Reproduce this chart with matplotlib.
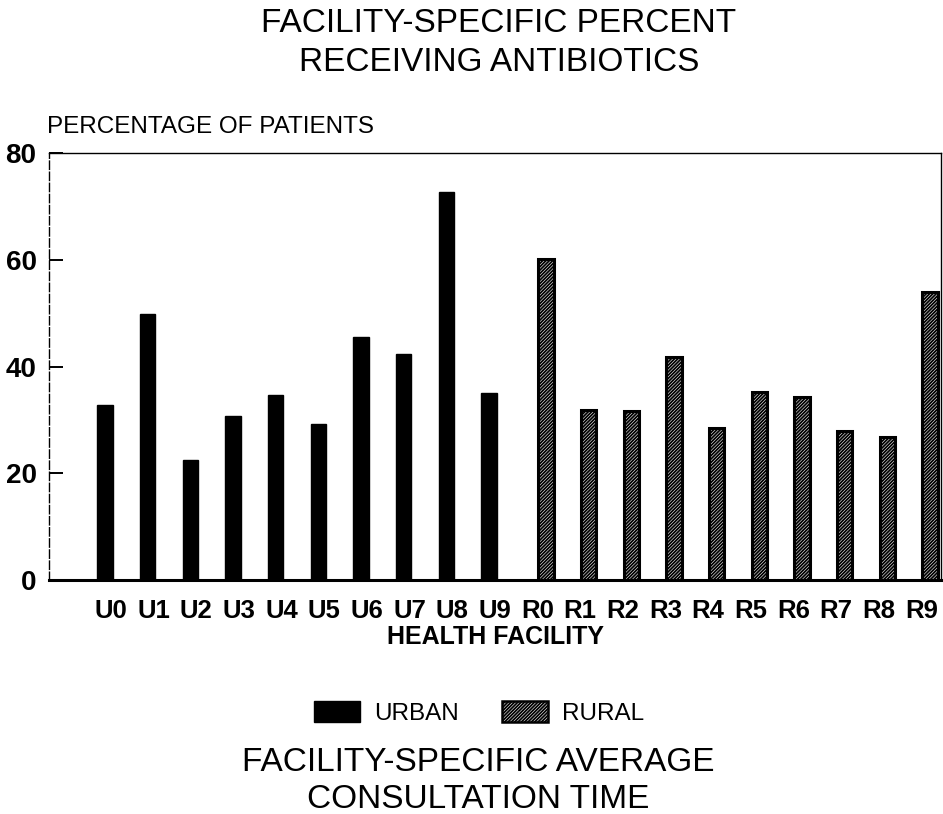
import matplotlib
matplotlib.use("Agg")
import matplotlib.pyplot as plt
from matplotlib.patches import Patch
import numpy as np

# data
urban_labels = ["U0", "U1", "U2", "U3", "U4", "U5", "U6", "U7", "U8", "U9"]
rural_labels = ["R0", "R1", "R2", "R3", "R4", "R5", "R6", "R7", "R8", "R9"]
urban_pct = [32.7, 49.9, 22.4, 30.7, 34.6, 29.3, 45.6, 42.4, 72.7, 35.0]
rural_pct = [60.2, 31.8, 31.6, 41.7, 28.4, 35.3, 34.3, 28.0, 26.8, 54.0]
yticks = [0, 20, 40, 60, 80]

plt.rcParams['font.family'] = ['Liberation Sans', 'DejaVu Sans']
plt.rcParams['hatch.linewidth'] = 1.3

fig = plt.figure(figsize=(9.43, 8.14), dpi=100)
ax = fig.add_axes([0.052, 0.2875, 0.946, 0.5245])

x_u = np.arange(len(urban_pct))
x_r = np.arange(len(rural_pct)) + len(urban_pct) + 0.34
bw = 0.36
hatch = '//////////'

ax.bar(x_u, urban_pct, width=bw, color='black', edgecolor='black')
ax.bar(x_r, rural_pct, width=bw, facecolor='white', edgecolor='black',
       hatch=hatch, linewidth=2.2)

ax.set_xlim(-1.31, 19.6)
ax.set_ylim(0, 80)

# tick labels are evenly spaced, a little off the bars
tick_pos = np.arange(20) + 0.14
ax.set_xticks(tick_pos)
ax.set_xticklabels(urban_labels + rural_labels, fontsize=18.5, fontweight='bold')
ax.tick_params(axis='x', length=0, pad=14)

ax.set_yticks(yticks)
ax.set_yticklabels([str(v) for v in yticks], fontsize=20, fontweight='bold')
ax.tick_params(axis='y', direction='in', length=10, width=1.4, pad=9)

for s in ['left', 'top', 'right']:
    ax.spines[s].set_linewidth(1.0)
ax.spines['left'].set_linestyle((0, (6, 2)))
ax.spines['bottom'].set_linewidth(2.2)

fig.text(0.050, 0.844, "PERCENTAGE OF PATIENTS", fontsize=17.5, ha='left', va='center')
fig.text(0.525, 0.217, "HEALTH FACILITY", fontsize=18, fontweight='bold',
         ha='center', va='center')

fig.text(0.529, 0.971, "FACILITY-SPECIFIC PERCENT", fontsize=24, ha='center', va='center')
fig.text(0.529, 0.923, "RECEIVING ANTIBIOTICS", fontsize=24, ha='center', va='center')

fig.text(0.507, 0.063, "FACILITY-SPECIFIC AVERAGE", fontsize=24, ha='center', va='center')
fig.text(0.507, 0.018, "CONSULTATION TIME", fontsize=24, ha='center', va='center')

handles = [Patch(facecolor='black', edgecolor='black', label='URBAN'),
           Patch(facecolor='white', edgecolor='black', hatch=hatch, linewidth=1.8,
                 label='RURAL')]
fig.legend(handles=handles, loc='center', bbox_to_anchor=(0.508, 0.124), ncol=2,
           frameon=False, fontsize=17.5, handlelength=1.9, handleheight=0.9,
           columnspacing=1.8, handletextpad=0.55)

fig.savefig("out.png", dpi=100)
